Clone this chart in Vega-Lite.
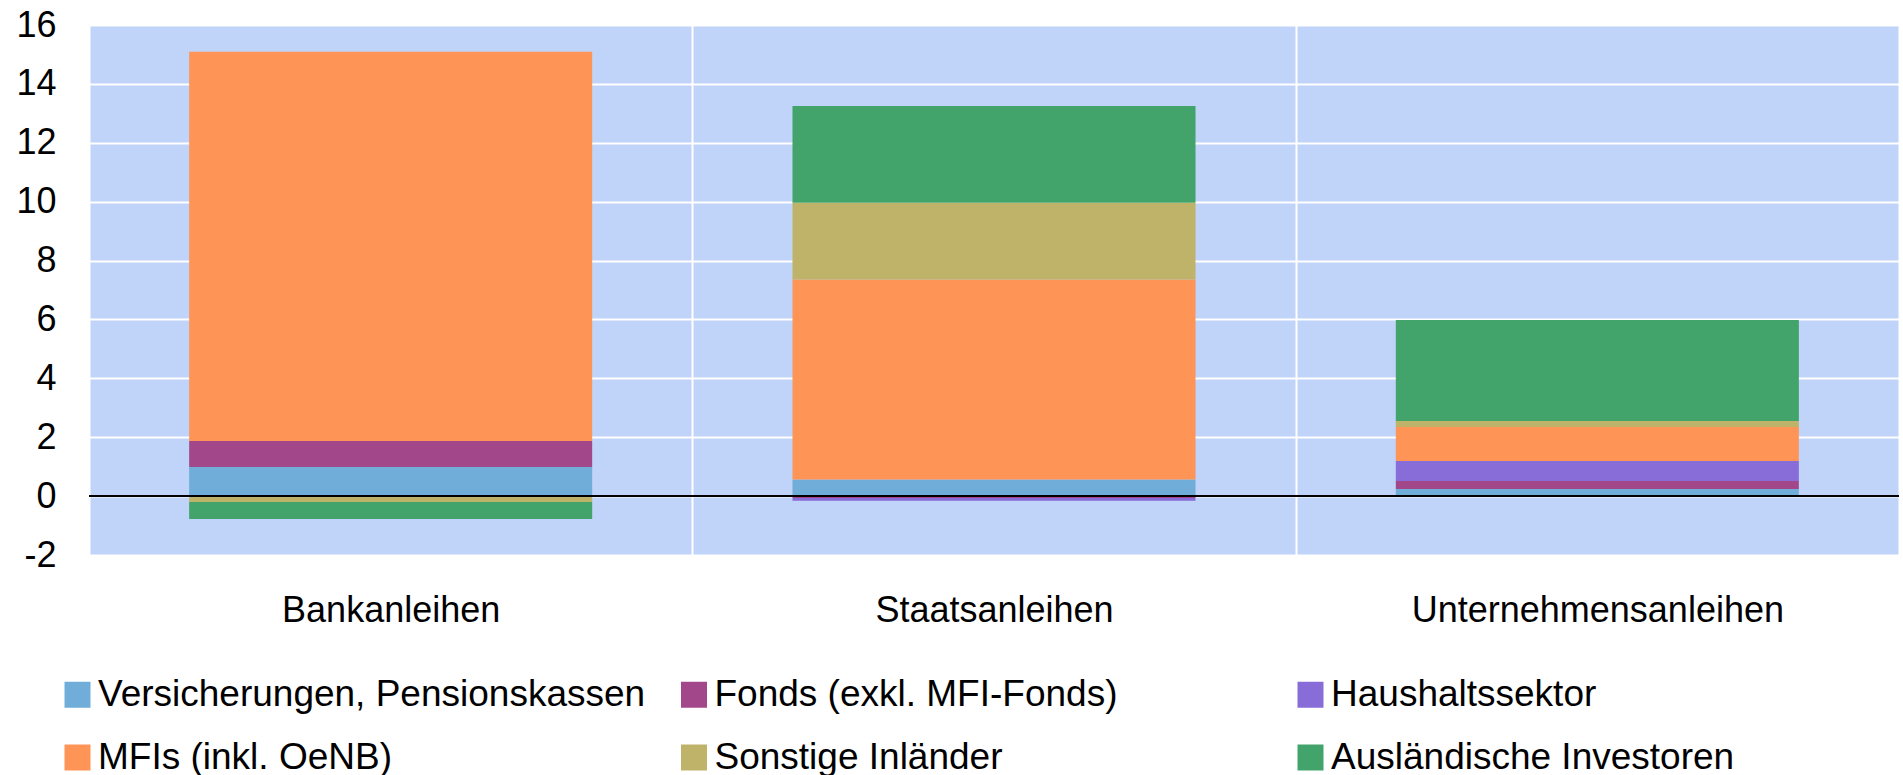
{
  "$schema": "https://vega.github.io/schema/vega-lite/v6.json",
  "autosize": {"type": "none"},
  "padding": {"left": 89, "top": 25, "right": 4, "bottom": 220},
  "width": 1810,
  "height": 530,
  "background": "white",
  "config": {
    "view": {"fill": "#C0D3F8", "stroke": null},
    "font": "Liberation Sans"
  },
  "data": {
    "values": [
      {"cat": "Bankanleihen", "sector": "Versicherungen, Pensionskassen", "o": 1, "value": 0.99},
      {"cat": "Bankanleihen", "sector": "Fonds (exkl. MFI-Fonds)", "o": 2, "value": 0.88},
      {"cat": "Bankanleihen", "sector": "Haushaltssektor", "o": 3, "value": 0.0},
      {"cat": "Bankanleihen", "sector": "MFIs (inkl. OeNB)", "o": 4, "value": 13.22},
      {"cat": "Bankanleihen", "sector": "Sonstige Inländer", "o": 5, "value": -0.2},
      {"cat": "Bankanleihen", "sector": "Ausländische Investoren", "o": 6, "value": -0.58},
      {"cat": "Staatsanleihen", "sector": "Versicherungen, Pensionskassen", "o": 1, "value": 0.56},
      {"cat": "Staatsanleihen", "sector": "Fonds (exkl. MFI-Fonds)", "o": 2, "value": -0.06},
      {"cat": "Staatsanleihen", "sector": "Haushaltssektor", "o": 3, "value": -0.1},
      {"cat": "Staatsanleihen", "sector": "MFIs (inkl. OeNB)", "o": 4, "value": 6.8},
      {"cat": "Staatsanleihen", "sector": "Sonstige Inländer", "o": 5, "value": 2.6},
      {"cat": "Staatsanleihen", "sector": "Ausländische Investoren", "o": 6, "value": 3.29},
      {"cat": "Unternehmensanleihen", "sector": "Versicherungen, Pensionskassen", "o": 1, "value": 0.24},
      {"cat": "Unternehmensanleihen", "sector": "Fonds (exkl. MFI-Fonds)", "o": 2, "value": 0.27},
      {"cat": "Unternehmensanleihen", "sector": "Haushaltssektor", "o": 3, "value": 0.68},
      {"cat": "Unternehmensanleihen", "sector": "MFIs (inkl. OeNB)", "o": 4, "value": 1.16},
      {"cat": "Unternehmensanleihen", "sector": "Sonstige Inländer", "o": 5, "value": 0.2},
      {"cat": "Unternehmensanleihen", "sector": "Ausländische Investoren", "o": 6, "value": 3.43}
    ]
  },
  "layer": [
    {
      "mark": {"type": "bar", "width": {"band": 0.668}},
      "encoding": {
        "x": {
          "field": "cat",
          "type": "nominal",
          "scale": {
            "domain": ["Bankanleihen", "Staatsanleihen", "Unternehmensanleihen"],
            "paddingInner": 0,
            "paddingOuter": 0
          },
          "axis": {
            "title": null,
            "labelAngle": 0,
            "labelFontSize": 36,
            "labelColor": "black",
            "labelFont": "Liberation Sans",
            "labelPadding": 38,
            "ticks": false,
            "domain": false,
            "grid": true,
            "tickBand": "extent",
            "gridColor": "white",
            "gridWidth": 2,
            "gridOpacity": 1,
            "labelLimit": 1000
          }
        },
        "y": {
          "field": "value",
          "type": "quantitative",
          "stack": "zero",
          "scale": {"domain": [-2, 16], "nice": false, "zero": false},
          "axis": {
            "title": null,
            "values": [-2, 0, 2, 4, 6, 8, 10, 12, 14, 16],
            "labelExpr": "toString(datum.value)",
            "labelFontSize": 36,
            "labelColor": "black",
            "labelFont": "Liberation Sans",
            "labelPadding": 33,
            "ticks": false,
            "domain": false,
            "grid": true,
            "gridColor": "white",
            "gridWidth": 2,
            "gridOpacity": 1
          }
        },
        "color": {
          "field": "sector",
          "type": "nominal",
          "scale": {
            "domain": ["Versicherungen, Pensionskassen", "Fonds (exkl. MFI-Fonds)", "Haushaltssektor", "MFIs (inkl. OeNB)", "Sonstige Inländer", "Ausländische Investoren"],
            "range": ["#70ADD9", "#A3478B", "#886CD8", "#FF9457", "#BFB36A", "#42A46A"]
          },
          "legend": {
            "title": null,
            "orient": "none",
            "legendX": -30,
            "legendY": 651,
            "direction": "horizontal",
            "columns": 3,
            "gridAlign": "all",
            "columnPadding": 29.5,
            "rowPadding": 25,
            "padding": 0,
            "symbolType": "square",
            "symbolSize": 676,
            "symbolStrokeWidth": 0,
            "symbolOpacity": 1,
            "labelFontSize": 37,
            "labelFont": "Liberation Sans",
            "labelColor": "black",
            "labelOffset": 2,
            "labelLimit": 1000
          }
        },
        "order": {"field": "o", "type": "quantitative"}
      }
    },
    {
      "data": {"values": [{"z": 0}]},
      "mark": {"type": "rule", "color": "black", "strokeWidth": 2},
      "encoding": {
        "y": {"field": "z", "type": "quantitative"}
      }
    }
  ]
}
